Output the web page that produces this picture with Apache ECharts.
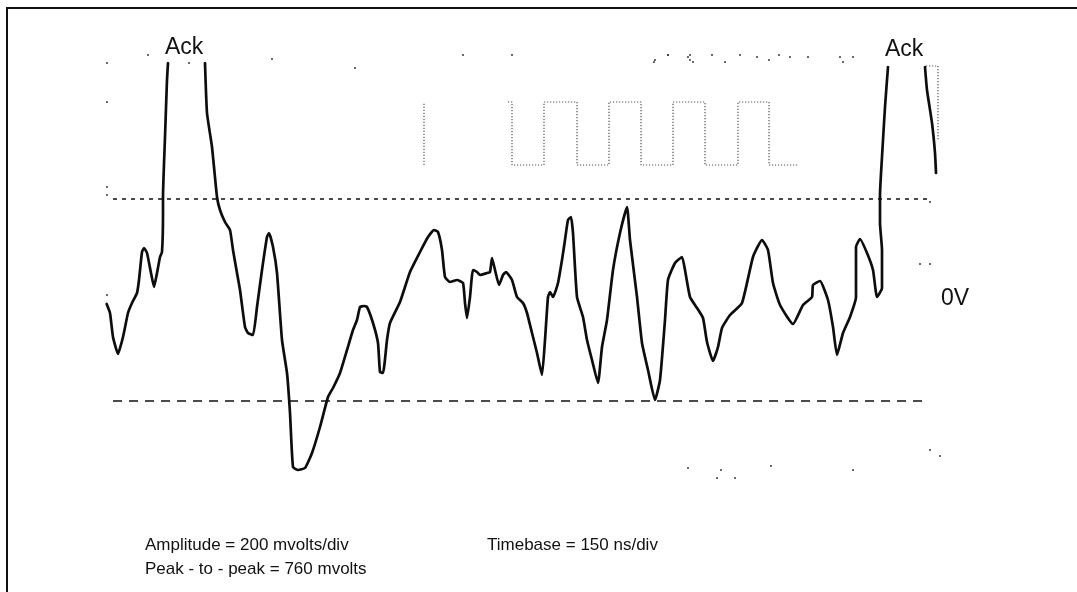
<!DOCTYPE html>
<html>
<head>
<meta charset="utf-8">
<script src="https://cdn.jsdelivr.net/npm/echarts@6/dist/echarts.min.js"></script>
<style>
html,body{margin:0;padding:0;background:#fff;}
#chart{width:1077px;height:592px;}
</style>
</head>
<body>
<div id="chart"></div>
<script>
// Time (ns) and amplitude (mV) of the main oscilloscope trace; null = trace leaves the screen
const traceTime = [2.5,7.5,12,19.5,27,34.5,40.5,48,51,55.5,58.5,63,69,73.5,78,82.5,85.5,87,87,90,93,94.5,null,
  150,153,160.5,168,172.5,180,187.5,192,198,202.5,210,214.5,222,228,235.5,243,246,252,258,265.5,273,277.5,282,289.5,300,
  310.5,322.5,334.5,342,352.5,363,372,378,382.5,388.5,393,402,409.5,412.5,417,423,427.5,442.5,457.5,472.5,484.5,493.5,499.5,
  505.5,510,517.5,528,537,540,543,547.5,552,558,562.5,573,577.5,580.5,585,591,597,601.5,610.5,618,627,633,640.5,648,655.5,
  660,664.5,667.5,672,679.5,685.5,690,694.5,699,702,708,717,723,730.5,739.5,745.5,753,762,772.5,783,787.5,798,805.5,814.5,
  825,832.5,840,844.5,855,865.5,870,877.5,888,897,903,912,919.5,925.5,937.5,955.5,972,985.5,994.5,1002,1012.5,1032,1047,
  1060.5,1062,1072.5,1084.5,1092,1098,1107,1117.5,1126.5,1126.5,1132.5,1143,1152,1158,1165.5,1165.5,1162.5,1162.5,1165.5,
  1170,1174.5,null,1230,1233,1240.5,1245,1246.5];
const traceMv = [-12,-30,-78,-112,-78,-30,-10,10,36,92,100,90,50,22,50,82,92,170,202,322,436,470,null,
  470,370,302,202,176,152,136,96,50,16,-58,-70,-74,-18,56,122,130,102,50,-84,-150,-230,-338,-344,-340,
  -310,-258,-198,-180,-150,-104,-64,-44,-18,-16,-18,-50,-90,-148,-150,-84,-50,-8,52,92,122,136,132,
  96,42,32,36,30,-10,-40,2,56,52,46,50,52,80,56,26,46,52,36,2,-10,-30,-70,-110,-154,
  -84,2,12,2,30,76,116,156,162,130,2,-38,-84,-124,-170,-98,-44,56,130,182,116,2,-90,-144,
  -204,-164,-44,36,70,82,56,2,-20,-40,-88,-126,-98,-60,-34,-10,82,116,96,30,-14,-52,-14,
  2,26,34,-4,-58,-114,-70,-38,2,102,118,90,56,2,20,96,150,206,282,
  382,462,null,462,416,350,290,250];

// Dotted digital trace (square wave)
const digitalTime = [478.5,478.5,null,604.5,610.5,610.5,658.5,658.5,708,708,756,756,804,804,852,852,900,900,949.5,949.5,996,996,1039.5,null,1231.5,1249.5,1249.5];
const digitalMv   = [266,392,null,392,392,266,266,392,392,266,266,392,392,266,266,392,392,266,266,392,392,266,266,null,464,464,316];

// Reference threshold levels (mV) and their time extents (ns)
const upperLevel = 198, upperStart = 12, upperEnd = 1234.5;
const lowerLevel = -206, lowerStart = 12, lowerEnd = 1233;

// Faint graticule dots left on the screen (ns, mV)
const dotTime = [3,3,3,3,3,64.5,250.5,375,537,610.5,823.5,844.5,874.5,877.5,1222.5,1237.5,1252.5,1237.5,874.5,924,918,945,999,1122,1237.5,
  825,844.5,877.5,882,910.5,930,952.5,978,996,1011,1027.5,1054.5,1102.5,1107,1122,126];
const dotMv   = [470,392,222,206,6,486,478,460,486,486,472,486,482,476,68,68,-316,192,-340,-344,-360,-360,-336,-344,-304,
  476,486,486,472,486,472,486,482,476,486,482,482,482,472,482,470];

const annotations = {
  ack: 'Ack',
  zero: '0V',
  line1a: 'Amplitude = 200 mvolts/div',
  line1b: 'Timebase = 150 ns/div',
  line2: 'Peak - to - peak = 760 mvolts'
};

const zip = (a, b) => a.map((t, i) => (t === null ? [null, null] : [t, b[i]]));

const chart = echarts.init(document.getElementById('chart'), null, {renderer: 'canvas'});
const FONT = '"Liberation Sans", Arial, Helvetica, sans-serif';
chart.setOption({
  animation: false,
  backgroundColor: '#ffffff',
  grid: {left: 105, right: 132, top: 63, bottom: 112},
  xAxis: {type: 'value', min: 0, max: 1260, show: false, splitLine: {show: false}},
  yAxis: {type: 'value', min: -364, max: 470, show: false, splitLine: {show: false}},
  series: [
    {
      type: 'scatter', data: zip(dotTime, dotMv), symbol: 'rect', symbolSize: 1.8, clip: false,
      itemStyle: {color: '#333'}, silent: true, z: 1
    },
    {
      type: 'line', data: [[upperStart, upperLevel], [upperEnd, upperLevel]], showSymbol: false, symbol: 'none',
      lineStyle: {color: '#111', width: 1.6, type: [4, 5]}, z: 2
    },
    {
      type: 'line', data: [[lowerStart, lowerLevel], [lowerEnd, lowerLevel]], showSymbol: false, symbol: 'none',
      lineStyle: {color: '#111', width: 1.5, type: [9, 7]}, z: 2
    },
    {
      type: 'line', data: zip(digitalTime, digitalMv), showSymbol: false, symbol: 'none', connectNulls: false,
      lineStyle: {color: '#555', width: 1.2, type: [1.2, 1.8]}, z: 3
    },
    {
      type: 'line', data: zip(traceTime, traceMv), showSymbol: false, symbol: 'none', connectNulls: false,
      smooth: 0.15, lineStyle: {color: '#0d0d0d', width: 2.7, join: 'round', cap: 'round'}, z: 4
    }
  ],
  graphic: [
    {type: 'rect', shape: {x: 7, y: 8, width: 1100, height: 620}, style: {fill: null, stroke: '#111', lineWidth: 2}, silent: true},
    {type: 'text', left: 165, top: 36, style: {text: annotations.ack, font: '23px ' + FONT, fill: '#111'}},
    {type: 'text', left: 885, top: 38, style: {text: annotations.ack, font: '23px ' + FONT, fill: '#111'}},
    {type: 'text', left: 941, top: 287, style: {text: annotations.zero, font: '23px ' + FONT, fill: '#111'}},
    {type: 'text', left: 145, top: 537, style: {text: annotations.line1a, font: '17px ' + FONT, fill: '#111'}},
    {type: 'text', left: 487, top: 537, style: {text: annotations.line1b, font: '17px ' + FONT, fill: '#111'}},
    {type: 'text', left: 145, top: 561, style: {text: annotations.line2, font: '17px ' + FONT, fill: '#111'}}
  ]
});
</script>
</body>
</html>
